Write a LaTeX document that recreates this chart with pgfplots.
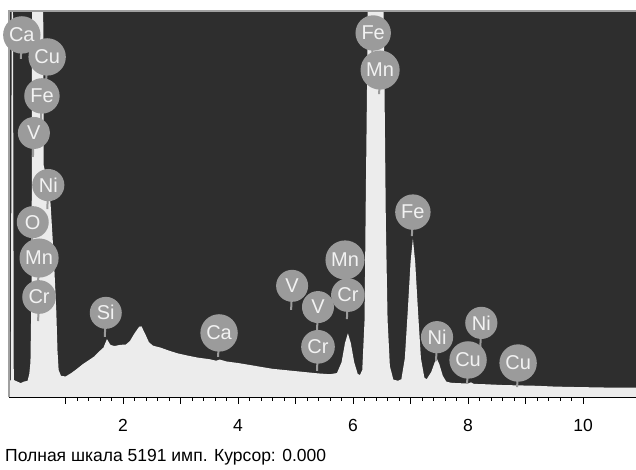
\documentclass[border=0pt]{standalone}
\usepackage{fontspec}
\setmainfont{Liberation Sans}
\usepackage{pgfplots}
\pgfplotsset{compat=1.18}

\definecolor{bgdark}{HTML}{2E2E2E}
\definecolor{spec}{HTML}{ECECEC}
\definecolor{labfill}{HTML}{9B9B9B}
\definecolor{labtext}{HTML}{F2F2F2}
\definecolor{frame}{HTML}{A0A0A0}

\tikzset{
  el/.style={circle, fill=labfill, text=labtext, inner sep=3pt, minimum size=32pt,
    font=\fontsize{20pt}{22pt}\selectfont},
}
% label: element name at (keV, percent), stem hangs below the circle
\newcommand{\lab}[3]{%
  \draw[labfill, line width=2pt] (axis cs:#1,#2) -- ++(0,-24pt);
  \node[el] at (axis cs:#1,#2) {#3};
}

\begin{document}
\begin{tikzpicture}
\begin{axis}[
  scale only axis, width=627pt, height=386pt,
  xmin=0.017, xmax=10.92, ymin=0, ymax=100,
  axis background/.style={fill=bgdark},
  axis x line*=bottom, axis y line=none,
  x axis line style={black, line width=1.2pt, -},
  xtick={1,2,...,10}, xticklabels={,2,,4,,6,,8,,10},
  minor x tick num=4, tick align=outside, xtick pos=bottom,
  major tick length=7pt, minor tick length=4pt,
  tick style={black, line width=1pt},
  xticklabel style={font=\fontsize{17.5pt}{20pt}\selectfont, yshift=-12pt},
  ytick=\empty,
  clip mode=individual,
]
\addplot[fill=spec, draw=none] coordinates {
(0.017,4) (0.05,4.4) (0.065,110) (0.085,110) (0.10,4.4) (0.16,4) (0.22,3.6) (0.28,4) (0.34,4.2)
(0.37,6) (0.39,9) (0.41,30) (0.42,110) (0.61,110) (0.62,60) (0.70,55) (0.74,50)
(0.80,35) (0.84,22) (0.86,12) (0.88,7) (0.92,5.5) (1.00,5.3) (1.10,6.2) (1.20,7.3)
(1.30,8.5) (1.40,9.5) (1.50,10.5) (1.60,12) (1.66,12.8) (1.72,15) (1.78,13.5)
(1.85,13.2) (1.95,13.5) (2.05,13.6) (2.12,14.5) (2.20,16.5) (2.28,18.2) (2.32,18.3)
(2.38,16.5) (2.45,14.2) (2.52,13.3) (2.65,12.8) (2.80,12) (2.95,11.3) (3.10,10.8)
(3.30,10.2) (3.50,9.8) (3.62,9.4) (3.68,9.7) (3.80,9.2) (4.00,8.8) (4.20,8.3)
(4.40,7.8) (4.60,7.3) (4.80,7.0) (5.00,6.7) (5.20,6.4) (5.40,6.1) (5.60,5.9)
(5.72,6.2) (5.80,9) (5.86,14) (5.91,16.5) (5.96,14) (6.02,9) (6.08,6) (6.12,5.7)
(6.16,7) (6.20,20) (6.22,50) (6.25,90) (6.26,110) (6.52,110) (6.54,90) (6.57,45)
(6.60,20) (6.64,8) (6.70,4.5) (6.78,4.2) (6.84,4.6) (6.90,10) (6.95,22) (7.00,35)
(7.04,41) (7.08,35) (7.13,22) (7.18,10) (7.24,5) (7.28,4.6) (7.36,6.5) (7.42,9)
(7.46,9.8) (7.50,8.5) (7.56,5.5) (7.62,4) (7.70,3.7) (7.80,3.6) (8.00,3.5)
(8.05,3.8) (8.10,3.4) (8.30,3.3) (8.60,3.1) (8.90,3.0) (9.20,2.9) (9.50,2.7)
(9.80,2.6) (10.20,2.5) (10.60,2.4) (10.92,2.4)
} \closedcycle;
\draw[frame, line width=2pt] (rel axis cs:0,0) -- (rel axis cs:0,1) -- (rel axis cs:1,1);
\lab{0.24}{93.8}{Ca}
\lab{0.68}{88.1}{Cu}
\lab{0.59}{78.0}{Fe}
\lab{0.45}{68.4}{V}
\lab{0.70}{54.9}{Ni}
\lab{0.43}{45.3}{O}
\lab{0.54}{36.0}{Mn}
\lab{0.54}{25.9}{Cr}
\lab{1.70}{21.8}{Si}
\lab{3.67}{16.6}{Ca}
\lab{4.94}{28.8}{V}
\lab{5.39}{23.3}{V}
\lab{5.39}{13.0}{Cr}
\lab{5.86}{35.5}{Mn}
\lab{5.91}{26.4}{Cr}
\lab{6.35}{94.3}{Fe}
\lab{6.47}{84.7}{Mn}
\lab{7.04}{47.9}{Fe}
\lab{7.46}{15.5}{Ni}
\lab{8.23}{19.2}{Ni}
\lab{8.00}{9.6}{Cu}
\lab{8.87}{8.8}{Cu}
\coordinate (pl) at (rel axis cs:0,0);
\coordinate (pr) at (rel axis cs:1,1);
\end{axis}
\node[anchor=base west, inner sep=0pt, font=\fontsize{17.5pt}{20pt}\selectfont]
  at ([xshift=-4pt, yshift=-64pt]pl) {Полная шкала 5191 имп. Курсор: 0.000};
\pgfresetboundingbox
\path ([xshift=-9pt, yshift=-73pt]pl) rectangle ([yshift=11pt]pr);
\end{tikzpicture}
\end{document}
